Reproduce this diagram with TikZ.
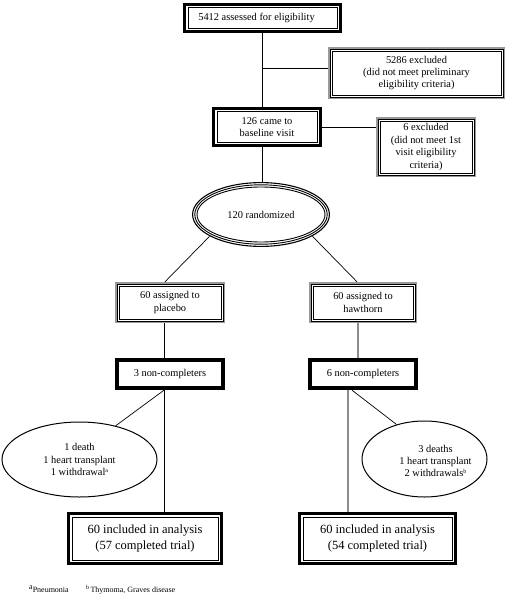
\documentclass[tikz,border=0pt]{standalone}
\usepackage{fontspec}
\setmainfont{Liberation Serif}
\usetikzlibrary{shapes.geometric,calc}
\tikzset{
  box/.style={rectangle, inner sep=0pt, align=center, font=\fontsize{10.4}{12.4}\selectfont},
  bigbox/.style={rectangle, inner sep=0pt, align=center, font=\fontsize{12.5}{15.5}\selectfont},
  ell/.style={ellipse, inner sep=0pt, align=center, font=\fontsize{10.4}{12.4}\selectfont},
  conn/.style={draw=black, line width=0.7pt},
  gconn/.style={draw=black!45, line width=1.4pt},
}
\newcommand\frameat[3]{%
  \draw[#3] ([shift={(#2pt,-#2pt)}]#1.north west) rectangle ([shift={(-#2pt,#2pt)}]#1.south east);}
\newcommand\heavyframe[1]{\frameat{#1}{1.75}{line width=3.5pt}\frameat{#1}{5.1}{line width=0.8pt}}
\newcommand\grayframe[1]{\frameat{#1}{0.9}{draw=black!40,line width=1.8pt}\frameat{#1}{2.2}{line width=0.8pt}\frameat{#1}{4.2}{line width=0.7pt}}
\newcommand\ncframe[1]{\frameat{#1}{2}{line width=4pt}}
\begin{document}
\begin{tikzpicture}[x=1pt,y=-1pt]
\useasboundingbox (0,0) rectangle (514,596);
\fill[white] (0,0) rectangle (514,596);

% nodes
\node[box, minimum width=159pt, minimum height=30pt] (assess) at (262.5,18) {\hspace*{-12pt}5412 assessed for eligibility};
\node[box, minimum width=177pt, minimum height=52pt] (excl1) at (416.5,73) {5286 excluded\\(did not meet preliminary\\eligibility criteria)};
\node[box, minimum width=110pt, minimum height=40pt] (base) at (267,127) {126 came to\\baseline visit};
\node[box, minimum width=100pt, minimum height=60pt] (excl2) at (426,147) {6 excluded\\(did not meet 1st\\visit eligibility\\criteria)};
\node[ell, minimum width=138pt, minimum height=65pt] (rand) at (261,214.5) {120 randomized};
\node[box, minimum width=110pt, minimum height=41pt] (plac) at (170,302.5) {60 assigned to\\placebo};
\node[box, minimum width=108pt, minimum height=41pt] (hawt) at (363,302.5) {60 assigned to\\hawthorn};
\node[box, minimum width=110pt, minimum height=32pt] (nc1) at (170,374) {3 non-completers};
\node[box, minimum width=110pt, minimum height=32pt] (nc2) at (363,374) {6 non-completers};
\node[ell, draw, line width=1pt, minimum width=155pt, minimum height=75pt] (ellL) at (79.5,459.5) {1 death\\1 heart transplant\\1 withdrawal\raisebox{3pt}{\fontsize{6}{7}\selectfont a}};
\node[ell, draw, line width=1pt, minimum width=125pt, minimum height=76pt,
      label={[align=center, font=\fontsize{10.4}{12.4}\selectfont, xshift=11pt, yshift=-2pt]center:3 deaths\\1 heart transplant\\2 withdrawals\raisebox{3pt}{\fontsize{6}{7}\selectfont b}}] (ellR) at (424.5,459) {};
\node[bigbox, minimum width=156pt, minimum height=53pt] (inc1) at (145,538.5) {60 included in analysis\\(57 completed trial)};
\node[bigbox, minimum width=159pt, minimum height=53pt] (inc2) at (377.5,538.5) {60 included in analysis\\(54 completed trial)};
\node[anchor=base west, inner sep=0pt, font=\fontsize{8}{9}\selectfont] (fa) at (29,592) {\raisebox{3pt}{a}Pneumonia};
\node[anchor=base west, inner sep=0pt, font=\fontsize{8}{9}\selectfont] (fb) at (86,592) {\raisebox{3pt}{\fontsize{6}{7}\selectfont b}\,Thymoma, Graves disease};

% frames
\heavyframe{assess}
\heavyframe{base}
\heavyframe{inc1}
\heavyframe{inc2}
\grayframe{excl1}
\grayframe{excl2}
\grayframe{plac}
\grayframe{hawt}
\ncframe{nc1}
\ncframe{nc2}
\draw[line width=1.1pt] (rand.center) ellipse [x radius=68.4pt, y radius=31.9pt];
\draw[line width=0.9pt] (rand.center) ellipse [x radius=66.2pt, y radius=29.7pt];
\draw[line width=0.9pt] (rand.center) ellipse [x radius=64pt, y radius=27.5pt];

% connectors
\coordinate (vmain) at (262,0);
\coordinate (br1) at (262,68);
\coordinate (vl) at (164,0);
\coordinate (vr1) at (358,0);
\coordinate (vr2) at (348,0);
\draw[conn] (assess.south -| vmain) -- (base.north -| vmain);
\draw[conn] (br1) -- (br1 -| excl1.west);
\draw[conn] (base.east) -- (base.east -| excl2.west);
\draw[conn] (base.south -| vmain) -- (rand.north -| vmain);
\draw[conn] (rand.203) -- ([xshift=-5pt]plac.north);
\draw[conn] (rand.337) -- ([xshift=-6pt]hawt.north);
\draw[conn] (plac.south -| vl) -- (nc1.north -| vl);
\draw[conn] (nc1.south -| vl) -- (inc1.north -| vl);
\draw[conn] (nc1.south -| vl) -- (ellL.43);
\draw[gconn] (hawt.south -| vr1) -- (nc2.north -| vr1);
\draw[gconn] (nc2.south -| vr2) -- (inc2.north -| vr2);
\draw[conn] ([xshift=-11pt]nc2.south) -- (ellR.129);
\end{tikzpicture}
\end{document}
